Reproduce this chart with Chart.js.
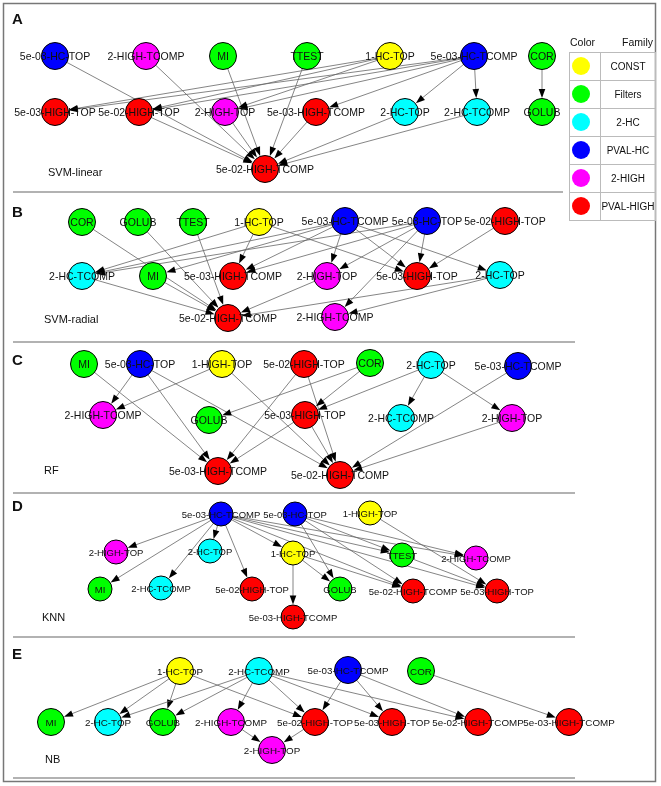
<!DOCTYPE html>
<html>
<head>
<meta charset="utf-8">
<script src="https://cdn.jsdelivr.net/npm/chart.js@4"></script>
<style>
  body { margin: 0; background: #fff; }
  canvas { display: block; }
</style>
</head>
<body>
<canvas id="myChart" width="661" height="786"></canvas>
<script>
// families and their colours
const families = ['CONST', 'Filters', '2-HC', 'PVAL\u2011HC', '2-HIGH', 'PVAL\u2011HIGH'];
const familyColors = ['#ffff00', '#00ff00', '#00ffff', '#0000ff', '#ff00ff', '#ff0000'];

// A - SVM-linear
const aNodes = ['5e-03-HC-TOP', '2-HIGH-TCOMP', 'MI', 'TTEST', '1-HC-TOP', '5e-03-HC-TCOMP', 'COR',
  '5e-03-HIGH-TOP', '5e-02-HIGH-TOP', '2-HIGH-TOP', '5e-03-HIGH-TCOMP', '2-HC-TOP', '2-HC-TCOMP', 'GOLUB',
  '5e-02-HIGH-TCOMP'];
const aX = [55, 146, 223, 307, 390, 474, 542, 55, 139, 225, 316, 405, 477, 542, 265];
const aY = [56, 56, 56, 56, 56, 56, 56, 112, 112, 112, 112, 112, 112, 112, 169];
const aEdges = [[0, 14], [1, 14], [2, 14], [3, 14], [8, 14], [9, 14], [10, 14], [11, 14], [12, 14],
  [4, 7], [4, 8], [4, 9], [5, 7], [5, 8], [5, 9], [5, 10], [5, 11], [5, 12], [6, 13]];

// B - SVM-radial
const bNodes = ['COR', 'GOLUB', 'TTEST', '1-HC-TOP', '5e-03-HC-TCOMP', '5e-03-HC-TOP', '5e-02-HIGH-TOP',
  '2-HC-TCOMP', 'MI', '5e-03-HIGH-TCOMP', '2-HIGH-TOP', '5e-03-HIGH-TOP', '2-HC-TOP',
  '5e-02-HIGH-TCOMP', '2-HIGH-TCOMP'];
const bX = [82, 138, 193, 259, 345, 427, 505, 82, 153, 233, 327, 417, 500, 228, 335];
const bY = [222, 222, 222, 222, 221, 221, 221, 276, 276, 276, 276, 276, 275, 318, 317];
const bEdges = [[0, 13], [1, 13], [2, 13], [7, 13], [8, 13], [10, 13], [12, 13],
  [3, 7], [3, 9], [3, 11], [4, 7], [4, 8], [4, 9], [4, 10], [4, 11], [4, 12],
  [5, 7], [5, 9], [5, 10], [5, 11], [5, 14], [6, 11], [12, 14]];

// C - RF
const cNodes = ['MI', '5e-03-HC-TOP', '1-HIGH-TOP', '5e-02-HIGH-TOP', 'COR', '2-HC-TOP', '5e-03-HC-TCOMP',
  '2-HIGH-TCOMP', 'GOLUB', '5e-03-HIGH-TOP', '2-HC-TCOMP', '2-HIGH-TOP', '5e-03-HIGH-TCOMP',
  '5e-02-HIGH-TCOMP'];
const cX = [84, 140, 222, 304, 370, 431, 518, 103, 209, 305, 401, 512, 218, 340];
const cY = [364, 364, 364, 364, 363, 365, 366, 415, 420, 415, 418, 418, 471, 475];
const cEdges = [[0, 12], [1, 7], [1, 12], [1, 13], [2, 7], [2, 13], [3, 12], [3, 13], [4, 8], [4, 9],
  [5, 9], [5, 10], [5, 11], [9, 12], [9, 13], [6, 13], [11, 13]];

// D - KNN
const dNodes = ['5e-03-HC-TCOMP', '5e-03-HC-TOP', '1-HIGH-TOP', '2-HIGH-TOP', '2-HC-TOP', '1-HC-TOP', 'TTEST',
  '2-HIGH-TCOMP', 'MI', '2-HC-TCOMP', '5e-02-HIGH-TOP', 'GOLUB', '5e-02-HIGH-TCOMP', '5e-03-HIGH-TOP',
  '5e-03-HIGH-TCOMP'];
const dX = [221, 295, 370, 116, 210, 293, 402, 476, 100, 161, 252, 340, 413, 497, 293];
const dY = [514, 514, 513, 552, 551, 553, 555, 558, 589, 588, 589, 589, 591, 591, 617];
const dEdges = [[0, 3], [0, 8], [0, 4], [0, 9], [0, 10], [0, 5], [0, 6], [0, 7], [0, 12], [0, 13],
  [1, 6], [1, 7], [1, 11], [1, 12], [2, 13], [5, 14], [5, 11], [5, 12], [6, 13]];

// E - NB
const eNodes = ['1-HC-TOP', '2-HC-TCOMP', '5e-03-HC-TCOMP', 'COR', 'MI', '2-HC-TOP', 'GOLUB', '2-HIGH-TCOMP',
  '5e-02-HIGH-TOP', '5e-03-HIGH-TOP', '5e-02-HIGH-TCOMP', '5e-03-HIGH-TCOMP', '2-HIGH-TOP'];
const eX = [180, 259, 348, 421, 51, 108, 163, 231, 315, 392, 478, 569, 272];
const eY = [671, 671, 670, 671, 722, 722, 722, 722, 722, 722, 722, 722, 750];
const eEdges = [[0, 4], [0, 5], [0, 6], [0, 8], [1, 5], [1, 6], [1, 7], [1, 8], [1, 9], [1, 10],
  [2, 8], [2, 9], [2, 10], [3, 11], [7, 12], [8, 12]];

const panelLetters = ['A', 'B', 'C', 'D', 'E'];
const panelNames = ['SVM-linear', 'SVM-radial', 'RF', 'KNN', 'NB'];

function familyOf(name) {
  if (name.startsWith('1-')) return 0;
  if (['MI', 'TTEST', 'COR', 'GOLUB'].includes(name)) return 1;
  if (name.startsWith('2-HC')) return 2;
  if (name.startsWith('5e') && name.includes('-HC-')) return 3;
  if (name.startsWith('2-HIGH')) return 4;
  return 5;
}

const panels = [
  { nodes: aNodes, x: aX, y: aY, edges: aEdges, r: 13.5, font: 10.5 },
  { nodes: bNodes, x: bX, y: bY, edges: bEdges, r: 13.5, font: 10.5 },
  { nodes: cNodes, x: cX, y: cY, edges: cEdges, r: 13.5, font: 10.5 },
  { nodes: dNodes, x: dX, y: dY, edges: dEdges, r: 12, font: 9.5 },
  { nodes: eNodes, x: eX, y: eY, edges: eEdges, r: 13.5, font: 9.8 }
];

const FONT = '"Liberation Sans", Arial, sans-serif';

const edgePlugin = {
  id: 'edges',
  beforeDatasetsDraw(chart) {
    const c = chart.ctx, sx = chart.scales.x, sy = chart.scales.y;
    c.save();
    panels.forEach(p => {
      p.edges.forEach(([s, t]) => {
        const x1 = sx.getPixelForValue(p.x[s]), y1 = sy.getPixelForValue(p.y[s]);
        const x2 = sx.getPixelForValue(p.x[t]), y2 = sy.getPixelForValue(p.y[t]);
        const a = Math.atan2(y2 - y1, x2 - x1);
        const tx = x2 - Math.cos(a) * (p.r + 0.5), ty = y2 - Math.sin(a) * (p.r + 0.5);
        const L = 9, W = 3.3;
        c.strokeStyle = '#666';
        c.lineWidth = 0.8;
        c.beginPath();
        c.moveTo(x1, y1);
        c.lineTo(tx - Math.cos(a) * L * 0.8, ty - Math.sin(a) * L * 0.8);
        c.stroke();
        c.fillStyle = '#000';
        c.beginPath();
        c.moveTo(tx, ty);
        c.lineTo(tx - L * Math.cos(a) + W * Math.sin(a), ty - L * Math.sin(a) - W * Math.cos(a));
        c.lineTo(tx - L * Math.cos(a) - W * Math.sin(a), ty - L * Math.sin(a) + W * Math.cos(a));
        c.closePath();
        c.fill();
      });
    });
    c.restore();
  },
  afterDatasetsDraw(chart) {
    const c = chart.ctx, sx = chart.scales.x, sy = chart.scales.y;
    c.save();
    c.textAlign = 'center';
    c.textBaseline = 'middle';
    c.fillStyle = '#111';
    panels.forEach(p => {
      c.font = p.font + 'px ' + FONT;
      p.nodes.forEach((n, i) => {
        c.fillText(n, sx.getPixelForValue(p.x[i]), sy.getPixelForValue(p.y[i]) + 1);
      });
    });
    c.restore();
  }
};

const decorPlugin = {
  id: 'decor',
  afterDraw(chart) {
    const c = chart.ctx;
    c.save();
    // outer frame
    c.strokeStyle = '#777';
    c.lineWidth = 1.5;
    c.strokeRect(3.5, 3.5, 652, 778);
    // separators
    c.strokeStyle = '#999';
    c.lineWidth = 1.5;
    [[192, 563], [342, 575], [493, 575], [637, 575], [778, 575]].forEach(([y, x2]) => {
      c.beginPath(); c.moveTo(13, y); c.lineTo(x2, y); c.stroke();
    });
    // panel letters and names
    const letterY = [20, 213, 361, 507, 655];
    const nameY = [173, 320, 471, 618, 760];
    const nameX = [48, 44, 44, 42, 45];
    c.fillStyle = '#111';
    c.textBaseline = 'middle';
    c.textAlign = 'left';
    panelLetters.forEach((l, i) => {
      c.font = 'bold 15px ' + FONT;
      c.fillText(l, 12, letterY[i]);
      c.font = '11px ' + FONT;
      c.fillText(panelNames[i], nameX[i], nameY[i]);
    });
    // legend table
    c.font = '10.5px ' + FONT;
    c.textAlign = 'left';
    c.fillText('Color', 570, 43);
    c.textAlign = 'right';
    c.fillText('Family', 653, 43);
    c.strokeStyle = '#bbb';
    c.lineWidth = 1;
    const top = 52, rowH = 28, left = 569.5, right = 655.5, mid = 600.5;
    c.strokeRect(left, top + 0.5, right - left, rowH * families.length);
    c.beginPath(); c.moveTo(mid, top); c.lineTo(mid, top + rowH * families.length); c.stroke();
    c.font = '10px ' + FONT;
    families.forEach((f, i) => {
      const cy = top + rowH * i + rowH / 2;
      if (i > 0) { c.beginPath(); c.moveTo(left, top + rowH * i + 0.5); c.lineTo(right, top + rowH * i + 0.5); c.stroke(); }
      c.fillStyle = familyColors[i];
      c.beginPath(); c.arc(581, cy, 9, 0, Math.PI * 2); c.fill();
      c.fillStyle = '#111';
      c.textAlign = 'center';
      c.fillText(f, 628, cy + 1);
    });
    c.restore();
  }
};

const datasets = panels.map(p => ({
  data: p.nodes.map((n, i) => ({ x: p.x[i], y: p.y[i] })),
  pointBackgroundColor: p.nodes.map(n => familyColors[familyOf(n)]),
  pointBorderColor: '#000',
  pointBorderWidth: 1,
  pointRadius: p.r,
  pointHoverRadius: p.r,
  showLine: false
}));

const ctx = document.getElementById('myChart');
const myChart = new Chart(ctx, {
  type: 'scatter',
  data: { datasets: datasets },
  options: {
    responsive: false,
    animation: false,
    layout: { padding: 0, autoPadding: false },
    scales: {
      x: { type: 'linear', min: 0, max: 661, display: false },
      y: { type: 'linear', min: 0, max: 786, reverse: true, display: false }
    },
    plugins: { legend: { display: false }, tooltip: { enabled: false } }
  },
  plugins: [edgePlugin, decorPlugin]
});
</script>
</body>
</html>
